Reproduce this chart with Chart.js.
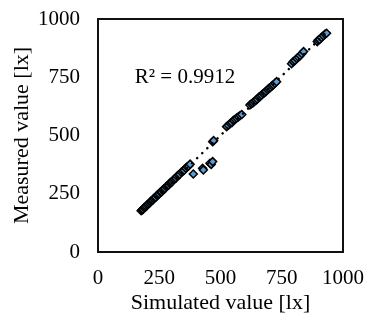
<!DOCTYPE html>
<html>
<head>
  <meta name="viewport" content="width=device-width, initial-scale=1">
  <script src="https://cdn.jsdelivr.net/npm/chart.js@4.4.1/dist/chart.umd.min.js"></script>
  <style>
    html, body { margin: 0; padding: 0; background: #fff; }
    #holder { width: 366px; height: 322px; }
  </style>
</head>
<body>
<div id="holder">
  <canvas id="chart-area"></canvas>
</div>

<script>
// simulated (x) and measured (y) illuminance
var simulated = [
  176,180,184,188,192,197,201,205,210,214,218,223,227,232,236,241,245,250,255,259,
  264,268,273,278,283,288,292,297,302,307,312,318,323,328,334,340,346,352,358,364,
  370,376,
  389,427,430,457,462,468,
  468,472,
  525,532,540,547,553,560,566,573,580,587,
  620,626,632,638,644,650,656,662,668,674,680,686,692,698,704,710,716,722,729,
  790,797,804,811,818,825,832,839,
  895,899,905,912,920,927,933
];
var measured = [
  177,181,183,190,193,196,203,206,209,215,220,222,229,233,235,243,246,250,257,258,
  266,270,272,280,284,287,295,298,301,309,313,317,325,330,334,342,347,351,360,366,
  369,377,
  335,359,352,381,376,388,
  473,478,
  538,544,552,556,565,570,575,580,586,590,
  631,636,640,646,651,656,664,668,674,680,684,690,697,702,706,713,718,724,731,
  808,817,822,830,836,843,851,860,
  903,910,912,921,928,935,939
];
var axisTicks = [0, 250, 500, 750, 1000];
var r2Label = 'R² = 0.9912';
var xTitle = 'Simulated value [lx]';
var yTitle = 'Measured value [lx]';

var serif = "'Liberation Serif', 'Times New Roman', serif";

var points = simulated.map(function(x, i) { return { x: x, y: measured[i] }; });

// linear trendline (least squares) over the data range, like Excel does
var n = simulated.length, sx = 0, sy = 0, sxx = 0, sxy = 0;
for (var i = 0; i < n; i++) {
  sx += simulated[i]; sy += measured[i];
  sxx += simulated[i] * simulated[i]; sxy += simulated[i] * measured[i];
}
var slope = (n * sxy - sx * sy) / (n * sxx - sx * sx);
var icpt = (sy - slope * sx) / n;
var xMin = Math.min.apply(null, simulated), xMax = Math.max.apply(null, simulated);
var trend = [{ x: xMin, y: slope * xMin + icpt }, { x: xMax, y: slope * xMax + icpt }];

// plot frame, R² text and the two axis titles
var boxPlugin = {
  id: 'box',
  afterDatasetsDraw: function(chart) {
    var a = chart.chartArea, c = chart.ctx;
    c.save();
    c.strokeStyle = '#111';
    c.lineWidth = 2;
    c.strokeRect(a.left, a.top, a.right - a.left, a.bottom - a.top);
    var xs = chart.scales.x, ys = chart.scales.y;
    c.fillStyle = '#000';
    c.font = '21px ' + serif;
    c.textBaseline = 'middle';
    c.fillText(r2Label, xs.getPixelForValue(150), ys.getPixelForValue(750));

    c.font = '22px ' + serif;
    c.textAlign = 'center';
    c.textBaseline = 'alphabetic';
    c.fillText(xTitle, (a.left + a.right) / 2, 309);
    c.translate(28, (a.top + a.bottom) / 2);
    c.rotate(-Math.PI / 2);
    c.fillText(yTitle, 0, 0);
    c.restore();
  }
};

var fixedTicks = function(s) { s.ticks = axisTicks.map(function(v) { return { value: v }; }); };

var config = {
  type: 'scatter',
  data: {
    datasets: [{
      label: 'Trend',
      type: 'line',
      data: trend,
      borderColor: '#000',
      borderWidth: 2.5,
      borderDash: [0.1, 7],
      borderCapStyle: 'round',
      pointRadius: 0,
      fill: false,
      order: 0
    }, {
      label: 'Data',
      data: points,
      pointStyle: 'rectRot',
      pointRadius: 4,
      backgroundColor: '#5B9BD5',
      borderColor: '#000',
      borderWidth: 1.5,
      order: 1
    }]
  },
  options: {
    responsive: true,
    maintainAspectRatio: false,
    animation: false,
    layout: { padding: { top: 19, right: 23, left: 0, bottom: 0 } },
    plugins: {
      legend: { display: false },
      tooltip: { enabled: false }
    },
    scales: {
      x: {
        type: 'linear',
        min: 0, max: 1000,
        afterBuildTicks: fixedTicks,
        afterFit: function(s) { s.height = 70; s.paddingLeft = 0; s.paddingRight = 0; },
        grid: { display: false, drawTicks: false },
        border: { display: false },
        ticks: { color: '#000', padding: 14, maxRotation: 0, font: { family: serif, size: 21 },
                 callback: function(v) { return String(v); } }
      },
      y: {
        type: 'linear',
        min: 0, max: 1000,
        afterBuildTicks: fixedTicks,
        afterFit: function(s) { s.width = 98; s.paddingTop = 0; s.paddingBottom = 0; },
        grid: { display: false, drawTicks: false },
        border: { display: false },
        ticks: { color: '#000', padding: 18, font: { family: serif, size: 21 },
                 callback: function(v) { return String(v); } }
      }
    }
  },
  plugins: [boxPlugin]
};

window.onload = function() {
  var ctx = document.getElementById('chart-area').getContext('2d');
  window.myScatter = new Chart(ctx, config);
};
</script>
</body>
</html>
